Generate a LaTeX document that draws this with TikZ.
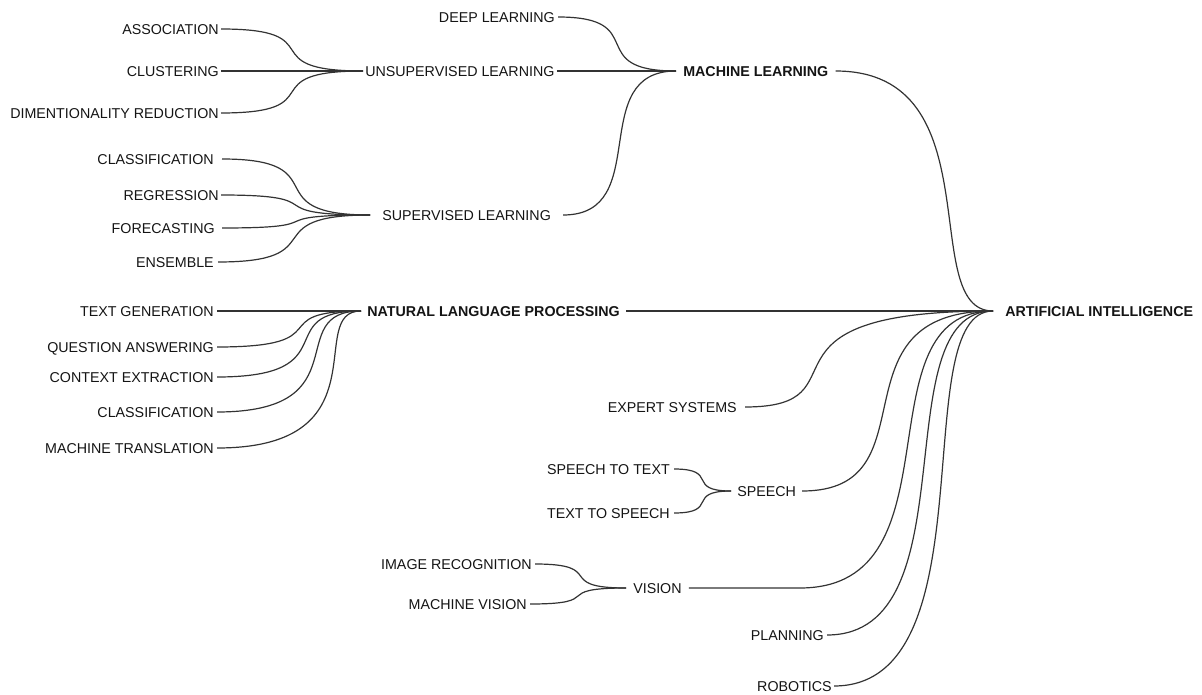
\documentclass[tikz,border=0pt]{standalone}
\usepackage{fontspec}
\setmainfont{Liberation Sans}
\begin{document}
\begin{tikzpicture}[x=0.75pt, y=-0.75pt,
  lbl/.style={font=\fontsize{10.7pt}{12pt}\selectfont, text=black!92,
              inner ysep=0pt, inner xsep=0pt, text height=7.66pt, text depth=0pt},
  pad/.style={inner xsep=#1*0.75pt},
  leafnode/.style={lbl, anchor=east},
  topicnode/.style={lbl, anchor=west},
  hubnode/.style={topicnode, font=\fontsize{10.7pt}{12pt}\selectfont\bfseries},
  conn/.style={draw=black!80, line width=0.9pt}]

\useasboundingbox (0,0) rectangle (1202,695);

% ---------- root and main branches ----------
\node[hubnode, pad=12] (ai)   at (993,311) {ARTIFICIAL INTELLIGENCE};
\node[hubnode, pad=7]  (ml)   at (676,71)  {MACHINE LEARNING};
\node[hubnode, pad=6]  (nlp)  at (361,311) {NATURAL LANGUAGE PROCESSING};
\node[leafnode, pad=8] (es)   at (745,407) {EXPERT SYSTEMS};
\node[topicnode, pad=6] (speech) at (731,491) {SPEECH};
\node[topicnode, pad=7] (vision) at (626,588) {VISION};
\node[leafnode, pad=3] (plan) at (827,635) {PLANNING};
\node[leafnode, pad=2] (robo) at (834,686) {ROBOTICS};

% ---------- machine learning ----------
\node[leafnode, pad=3]  (deep)  at (558,17)  {DEEP LEARNING};
\node[topicnode, pad=2] (unsup) at (363,71)  {UNSUPERVISED LEARNING};
\node[topicnode, pad=12] (sup)  at (370,215) {SUPERVISED LEARNING};

\node[leafnode, pad=2] (assoc)  at (221,29)  {ASSOCIATION};
\node[leafnode, pad=2] (clust)  at (221,71)  {CLUSTERING};
\node[leafnode, pad=2] (dimred) at (221,113) {DIMENTIONALITY REDUCTION};

\node[leafnode, pad=8] (sclass) at (222,159) {CLASSIFICATION};
\node[leafnode, pad=2] (regr)   at (221,195) {REGRESSION};
\node[leafnode, pad=7] (fore)   at (222,228) {FORECASTING};
\node[leafnode, pad=4] (ens)    at (218,262) {ENSEMBLE};

% ---------- natural language processing ----------
\node[leafnode, pad=3] (tgen)   at (217,311) {TEXT GENERATION};
\node[leafnode, pad=3] (qa)     at (217,347) {QUESTION ANSWERING};
\node[leafnode, pad=3] (ce)     at (217,377) {CONTEXT EXTRACTION};
\node[leafnode, pad=3] (nclass) at (217,412) {CLASSIFICATION};
\node[leafnode, pad=3] (mt)     at (217,448) {MACHINE TRANSLATION};

% ---------- speech and vision ----------
\node[leafnode, pad=4] (stt) at (674,469) {SPEECH TO TEXT};
\node[leafnode, pad=4] (tts) at (674,513) {TEXT TO SPEECH};
\node[leafnode, pad=3] (ir)  at (535,564) {IMAGE RECOGNITION};
\node[leafnode, pad=3] (mv)  at (530,604) {MACHINE VISION};

% ---------- connectors into the root ----------
\draw[conn] (ml.east) .. controls +(160,0) and +(-77,0) .. (ai.west);
\draw[conn] (nlp.east) -- (ai.west);
\draw[conn] (es.east) .. controls +(127,0) and +(-257,0) .. (ai.west);
\draw[conn] (speech.east) .. controls +(134,0) and +(-166,0) .. (ai.west);
\draw[conn] (vision.east) -- ++(111,0) .. controls +(164,0) and +(-136,0) .. (ai.west);
\draw[conn] (plan.east) .. controls +(146,0) and +(-111,0) .. (ai.west);
\draw[conn] (robo.east) .. controls +(158,0) and +(-88,0) .. (ai.west);

% ---------- machine learning connectors ----------
\draw[conn] (deep.east) .. controls +(94,0) and +(-94,0) .. (ml.west);
\draw[conn] (unsup.east) -- (ml.west);
\draw[conn] (sup.east) .. controls +(91,0) and +(-91,0) .. (ml.west);

\draw[conn] (assoc.east) .. controls +(114,0) and +(-114,0) .. (unsup.west);
\draw[conn] (clust.east) -- (unsup.west);
\draw[conn] (dimred.east) .. controls +(114,0) and +(-114,0) .. (unsup.west);

\draw[conn] (sclass.east) .. controls +(118,0) and +(-118,0) .. (sup.west);
\draw[conn] (regr.east) .. controls +(118,0) and +(-118,0) .. (sup.west);
\draw[conn] (fore.east) .. controls +(118,0) and +(-118,0) .. (sup.west);
\draw[conn] (ens.east) .. controls +(118,0) and +(-118,0) .. (sup.west);

% ---------- language processing connectors ----------
\draw[conn] (tgen.east) -- (nlp.west);
\draw[conn] (qa.east) .. controls +(126,0) and +(-100,0) .. (nlp.west);
\draw[conn] (ce.east) .. controls +(133,0) and +(-93,0) .. (nlp.west);
\draw[conn] (nclass.east) .. controls +(146,0) and +(-80,0) .. (nlp.west);
\draw[conn] (mt.east) .. controls +(169,0) and +(-57,0) .. (nlp.west);

% ---------- speech and vision connectors ----------
\draw[conn] (stt.east) .. controls +(46,0) and +(-46,0) .. (speech.west);
\draw[conn] (tts.east) .. controls +(46,0) and +(-46,0) .. (speech.west);
\draw[conn] (ir.east) .. controls +(73,0) and +(-73,0) .. (vision.west);
\draw[conn] (mv.east) .. controls +(77,0) and +(-77,0) .. (vision.west);
\end{tikzpicture}
\end{document}
